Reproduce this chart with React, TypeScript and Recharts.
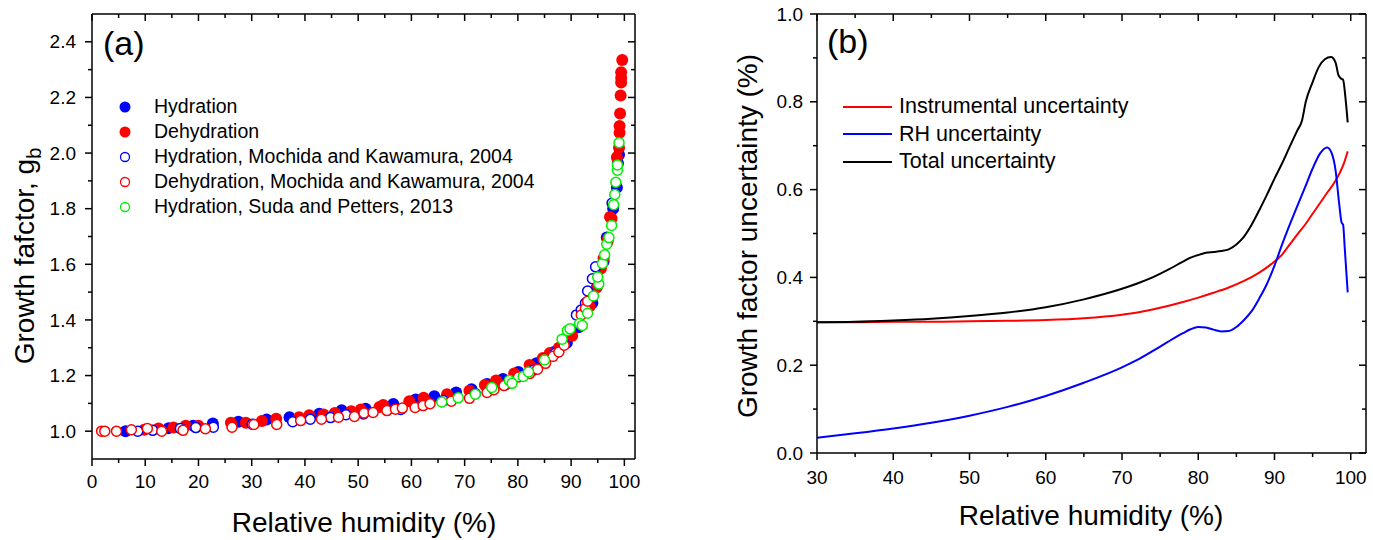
import React from "react";
import { ScatterChart, Scatter, LineChart, Line, XAxis, YAxis, Legend } from "recharts";

const FONT = "Arial, 'Liberation Sans', sans-serif";

// (a) growth factor vs relative humidity, pairs of [RH %, gb]
const hydration: [number, number][] = [
  [6.3, 1.0], [14.4, 1.011], [19, 1.02], [22.7, 1.028], [27.5, 1.034], [32.8, 1.042],
  [37.1, 1.05], [42.7, 1.063], [46.9, 1.075], [51.4, 1.081], [56.6, 1.098], [60.8, 1.114],
  [64.3, 1.126], [68.4, 1.139], [71.3, 1.151], [74.2, 1.17], [77.2, 1.188], [80.1, 1.213],
  [83.5, 1.244], [86.8, 1.285], [89.2, 1.318], [91.4, 1.374], [94, 1.461], [96.1, 1.61],
  [96.7, 1.696], [97.9, 1.8], [98.6, 1.876], [98.8, 1.963], [99, 1.994],
];
const dehydration: [number, number][] = [
  [9.8, 1.005], [12.5, 1.01], [15.3, 1.013], [17.6, 1.02], [20, 1.02], [26.1, 1.03],
  [28.9, 1.03], [31.9, 1.037], [34.6, 1.045], [38.9, 1.05], [40.8, 1.057], [43.5, 1.06],
  [45.6, 1.065], [48.7, 1.072], [50.5, 1.078], [54, 1.087], [54.7, 1.094], [59.6, 1.108],
  [62.3, 1.12], [66.7, 1.133], [70.9, 1.145], [73.8, 1.166], [75.9, 1.182], [79.3, 1.207],
  [82.2, 1.238], [84.7, 1.263], [86, 1.281], [87.7, 1.3], [90.2, 1.343], [93.5, 1.449],
  [94.8, 1.517], [95.6, 1.585], [96.1, 1.622], [96.9, 1.69], [97.3, 1.77], [97.6, 1.765],
  [98.6, 1.985], [99, 2.019], [99.1, 2.073], [99.1, 2.097], [99.2, 2.142], [99.3, 2.207],
  [99.4, 2.254], [99.4, 2.27], [99.4, 2.291], [99.6, 2.335],
];
const hydMochida: [number, number][] = [
  [8.6, 1.0], [11.4, 1.003], [16.6, 1.01], [19.5, 1.013], [22.8, 1.014], [30.1, 1.025],
  [37.7, 1.034], [41, 1.043], [44.8, 1.049], [47.7, 1.059], [51, 1.062], [58, 1.078],
  [66, 1.11], [72, 1.135], [78, 1.17], [83, 1.22], [87, 1.28], [91, 1.418], [91.9, 1.436],
  [92.7, 1.461], [93.1, 1.504], [94, 1.548], [94.6, 1.591], [97.7, 1.82],
];
const dehydMochida: [number, number][] = [
  [1.8, 1.0], [2.4, 1.0], [4.6, 1.0], [7.4, 1.005], [10.4, 1.01], [13.1, 1.0], [17.1, 1.003],
  [21.3, 1.009], [26.3, 1.014], [30.4, 1.024], [34.7, 1.024], [39.2, 1.038], [43.1, 1.043],
  [46.3, 1.05], [49.3, 1.053], [51.1, 1.065], [52.8, 1.067], [55.4, 1.074], [57, 1.079],
  [58.3, 1.083], [60.7, 1.085], [62.2, 1.092], [63.5, 1.099], [67.5, 1.108], [70.9, 1.118],
  [74.2, 1.139], [75.5, 1.149], [77.4, 1.164], [80.1, 1.195], [82.2, 1.207], [83.7, 1.223],
  [85.2, 1.244], [86.6, 1.269], [87.7, 1.285], [88.7, 1.309], [91.9, 1.418], [92.7, 1.442],
  [93.1, 1.467], [96.9, 1.68],
];
const hydSuda: [number, number][] = [
  [65.7, 1.105], [68.8, 1.12], [72, 1.133], [75.1, 1.157], [78.4, 1.182], [78.9, 1.172],
  [81, 1.197], [82, 1.213], [85, 1.256], [88.3, 1.331], [89.3, 1.362], [89.8, 1.368],
  [91.6, 1.387], [92.1, 1.38], [93.1, 1.424], [94.2, 1.486], [95.2, 1.529], [95, 1.554],
  [95.9, 1.603], [96.3, 1.634], [96.7, 1.672], [97.1, 1.696], [97.6, 1.74], [98, 1.814],
  [98.2, 1.851], [98.4, 1.895], [98.7, 1.938], [98.7, 1.957], [99, 2.037],
];

// (b) growth factor uncertainty vs relative humidity
const instrumental: [number, number][] = [
  [30, 0.298], [35, 0.298], [40, 0.299], [45, 0.299], [50, 0.3], [55, 0.301], [60, 0.303],
  [65, 0.307], [70, 0.315], [72, 0.32], [74, 0.327], [76, 0.335], [78, 0.344], [80, 0.354],
  [82, 0.365], [84, 0.377], [86, 0.392], [88, 0.411], [90, 0.436], [91, 0.452], [92, 0.475],
  [93, 0.498], [94, 0.52], [95, 0.545], [96, 0.57], [97, 0.595], [98, 0.62], [99, 0.655],
  [99.6, 0.687],
];
const rhUnc: [number, number][] = [
  [30, 0.035], [35, 0.045], [40, 0.056], [45, 0.069], [50, 0.085], [55, 0.105], [60, 0.13],
  [65, 0.16], [70, 0.195], [72, 0.212], [74, 0.232], [76, 0.253], [78, 0.273], [79, 0.282],
  [80, 0.287], [81, 0.286], [82, 0.281], [83, 0.277], [84, 0.278], [85, 0.287], [86, 0.303],
  [87, 0.323], [88, 0.352], [89, 0.385], [90, 0.427], [91, 0.475], [92, 0.52], [93, 0.563],
  [94, 0.605], [95, 0.648], [96, 0.683], [96.9, 0.696], [97.5, 0.683], [98, 0.645],
  [98.5, 0.565], [98.8, 0.525], [99, 0.52], [99.2, 0.47], [99.6, 0.366],
];
const totalUnc: [number, number][] = [
  [30, 0.298], [35, 0.299], [40, 0.302], [45, 0.306], [50, 0.312], [55, 0.32], [60, 0.332],
  [65, 0.35], [70, 0.374], [72, 0.386], [74, 0.4], [76, 0.417], [78, 0.436], [79, 0.445],
  [80, 0.451], [81, 0.456], [82, 0.458], [83, 0.46], [84, 0.464], [85, 0.475], [86, 0.493],
  [87, 0.52], [88, 0.553], [89, 0.588], [90, 0.625], [91, 0.66], [92, 0.698], [93, 0.735],
  [93.6, 0.757], [94.1, 0.8], [95, 0.845], [95.8, 0.879], [96.6, 0.897], [97.4, 0.902],
  [98, 0.89], [98.4, 0.86], [98.8, 0.852], [99, 0.85], [99.3, 0.81], [99.6, 0.753],
];

const gXTicks = [0, 10, 20, 30, 40, 50, 60, 70, 80, 90, 100];
const gXMinor = [5, 15, 25, 35, 45, 55, 65, 75, 85, 95];
const gYTicks = [1.0, 1.2, 1.4, 1.6, 1.8, 2.0, 2.2, 2.4];
const gYMinor = [1.1, 1.3, 1.5, 1.7, 1.9, 2.1, 2.3];
const uXTicks = [30, 40, 50, 60, 70, 80, 90, 100];
const uXMinor = [35, 45, 55, 65, 75, 85, 95];
const uYTicks = [0, 0.2, 0.4, 0.6, 0.8, 1.0];
const uYMinor = [0.1, 0.3, 0.5, 0.7, 0.9];

const xy = (pts: [number, number][]) => pts.map(([x, y]) => ({ x, y }));
const all = (a: number[], b: number[]) => [...a, ...b].sort((p, q) => p - q);

type Side = "left" | "right" | "top" | "bottom";

// draws tick line (major/minor) and the label itself; axis tickSize/tickMargin are 0
function tickFn(side: Side, majors: number[], labels: boolean, gap: number, fmt: (v: number) => string) {
  return (props: any) => {
    const { x, y, payload } = props;
    const v: number = payload.value;
    const major = majors.some((m) => Math.abs(m - v) < 1e-6);
    const len = major ? 7 : 4;
    const tp = { fontSize: 19, fontFamily: FONT, fill: "#000" };
    let line: React.ReactNode;
    let text: React.ReactNode = null;
    if (side === "left") {
      line = <line x1={x - len} y1={y} x2={x} y2={y} />;
      if (major && labels)
        text = <text x={x - gap} y={y} dy="0.35em" textAnchor="end" {...tp}>{fmt(v)}</text>;
    } else if (side === "right") {
      line = <line x1={x - len} y1={y} x2={x} y2={y} />;
    } else if (side === "bottom") {
      line = <line x1={x} y1={y} x2={x} y2={y + len} />;
      if (major && labels)
        text = <text x={x} y={y + gap} dy="0.71em" textAnchor="middle" {...tp}>{fmt(v)}</text>;
    } else {
      line = <line x1={x} y1={y} x2={x} y2={y + len} />;
    }
    return (
      <g>
        <g stroke="#000" strokeWidth={1.5}>{line}</g>
        {text}
      </g>
    );
  };
}

const axisLine = { stroke: "#000", strokeWidth: 1.5 };
const fix1 = (v: number) => v.toFixed(1);
const int = (v: number) => String(v);

const dot = (fill: string, stroke: string, r: number) => (p: any) =>
  <circle cx={p.cx} cy={p.cy} r={r} fill={fill} stroke={stroke} strokeWidth={1.5} />;

const scatterSeries = [
  { name: "Hydration", pts: hydration, fill: "#0000ff", stroke: "none", r: 6 },
  { name: "Dehydration", pts: dehydration, fill: "#ff0000", stroke: "none", r: 6 },
  { name: "Hydration, Mochida and Kawamura, 2004", pts: hydMochida, fill: "#ffffff", stroke: "#0000ff", r: 5 },
  { name: "Dehydration, Mochida and Kawamura, 2004", pts: dehydMochida, fill: "#ffffff", stroke: "#ff0000", r: 5 },
  { name: "Hydration, Suda and Petters, 2013", pts: hydSuda, fill: "#ffffff", stroke: "#00ee00", r: 5 },
];

const lineSeries = [
  { name: "Instrumental uncertainty", pts: instrumental, color: "#ff0000" },
  { name: "RH uncertainty", pts: rhUnc, color: "#0000ff" },
  { name: "Total uncertainty", pts: totalUnc, color: "#000000" },
];

const ScatterLegend = () => (
  <div style={{ fontFamily: FONT, fontSize: 19.5, color: "#000" }}>
    {scatterSeries.map((s) => (
      <div key={s.name} style={{ display: "flex", alignItems: "center", height: 25, whiteSpace: "nowrap" }}>
        <svg width={36} height={14}>
          <circle cx={7} cy={7} r={s.stroke === "none" ? 5.5 : 4.5} fill={s.fill} stroke={s.stroke} strokeWidth={1.3} />
        </svg>
        <span>{s.name}</span>
      </div>
    ))}
  </div>
);

const LineLegend = () => (
  <div style={{ fontFamily: FONT, fontSize: 21.5, color: "#000" }}>
    {lineSeries.map((s) => (
      <div key={s.name} style={{ display: "flex", alignItems: "center", height: 27.5, whiteSpace: "nowrap" }}>
        <svg width={56} height={10}>
          <line x1={0} y1={5} x2={49} y2={5} stroke={s.color} strokeWidth={2} />
        </svg>
        <span>{s.name}</span>
      </div>
    ))}
  </div>
);

function GrowthPanel() {
  return (
    <ScatterChart width={660} height={540} margin={{ top: 13, right: 24, bottom: 0, left: 0 }}>
      <XAxis xAxisId="b" type="number" dataKey="x" domain={[0, 102]} allowDataOverflow ticks={all(gXTicks, gXMinor)}
        interval={0} height={81} tickSize={0} tickMargin={0} tickLine={false} axisLine={axisLine}
        tick={tickFn("bottom", gXTicks, true, 16, int)}
        label={() => (
          <text x={364} y={532} textAnchor="middle" fontSize={28} fontFamily={FONT} fill="#000">Relative humidity (%)</text>
        )} />
      <XAxis xAxisId="t" orientation="top" type="number" dataKey="x" domain={[0, 102]} allowDataOverflow
        ticks={all(gXTicks, gXMinor)} interval={0} height={1} tickSize={0} tickMargin={0} tickLine={false}
        axisLine={axisLine} tick={tickFn("top", gXTicks, false, 0, int)}
        label={() => (
          <text x={103} y={55} fontSize={34} fontFamily={FONT} fill="#000">(a)</text>
        )} />
      <YAxis yAxisId="l" type="number" dataKey="y" domain={[0.9, 2.5]} allowDataOverflow ticks={all(gYTicks, gYMinor)}
        interval={0} width={92} tickSize={0} tickMargin={0} tickLine={false} axisLine={axisLine}
        tick={tickFn("left", gYTicks, true, 16, fix1)}
        label={() => (
          <text x={34} y={256} transform="rotate(-90, 34, 256)" textAnchor="middle" fontSize={28} fontFamily={FONT} fill="#000">
            Growth fafctor, g<tspan dy={7} fontSize={20}>b</tspan>
          </text>
        )} />
      <YAxis yAxisId="r" orientation="right" type="number" dataKey="y" domain={[0.9, 2.5]} allowDataOverflow
        ticks={all(gYTicks, gYMinor)} interval={0} width={1} tickSize={0} tickMargin={0} tickLine={false}
        axisLine={axisLine} tick={tickFn("right", gYTicks, false, 0, fix1)} />
      <Legend layout="vertical" align="center" verticalAlign="middle" content={ScatterLegend}
        wrapperStyle={{ left: 118, top: 94, right: "auto", bottom: "auto", width: "auto" }} />
      <Scatter data={xy(hydration)} xAxisId="t" yAxisId="r" shape={() => <g />} legendType="none" isAnimationActive={false} />
      {scatterSeries.map((s) => (
        <Scatter key={s.name} name={s.name} data={xy(s.pts)} xAxisId="b" yAxisId="l"
          shape={dot(s.fill, s.stroke, s.r)} isAnimationActive={false} />
      ))}
    </ScatterChart>
  );
}

function UncertaintyPanel() {
  return (
    <LineChart width={683} height={540} margin={{ top: 13, right: 6, bottom: 0, left: 0 }}>
      <XAxis xAxisId="b" type="number" dataKey="x" domain={[30, 102]} allowDataOverflow ticks={all(uXTicks, uXMinor)}
        interval={0} height={87} tickSize={0} tickMargin={0} tickLine={false} axisLine={axisLine}
        tick={tickFn("bottom", uXTicks, true, 18, int)}
        label={() => (
          <text x={401} y={525} textAnchor="middle" fontSize={28} fontFamily={FONT} fill="#000">Relative humidity (%)</text>
        )} />
      <XAxis xAxisId="t" orientation="top" type="number" dataKey="x" domain={[30, 102]} allowDataOverflow
        ticks={all(uXTicks, uXMinor)} interval={0} height={1} tickSize={0} tickMargin={0} tickLine={false}
        axisLine={axisLine} tick={tickFn("top", uXTicks, false, 0, int)}
        label={() => (
          <text x={137} y={53} fontSize={34} fontFamily={FONT} fill="#000">(b)</text>
        )} />
      <YAxis yAxisId="l" type="number" dataKey="y" domain={[0, 1]} allowDataOverflow ticks={all(uYTicks, uYMinor)}
        interval={0} width={127} tickSize={0} tickMargin={0} tickLine={false} axisLine={axisLine}
        tick={tickFn("left", uYTicks, true, 14, fix1)}
        label={() => (
          <text x={67} y={236} transform="rotate(-90, 67, 236)" textAnchor="middle" fontSize={28} fontFamily={FONT} fill="#000">
            Growth factor uncertainty (%)
          </text>
        )} />
      <YAxis yAxisId="r" orientation="right" type="number" dataKey="y" domain={[0, 1]} allowDataOverflow
        ticks={all(uYTicks, uYMinor)} interval={0} width={1} tickSize={0} tickMargin={0} tickLine={false}
        axisLine={axisLine} tick={tickFn("right", uYTicks, false, 0, fix1)} />
      <Legend layout="vertical" align="center" verticalAlign="middle" content={LineLegend}
        wrapperStyle={{ left: 153, top: 93, right: "auto", bottom: "auto", width: "auto" }} />
      <Line data={xy(totalUnc)} dataKey="y" xAxisId="t" yAxisId="r" stroke="none" dot={false} activeDot={false}
        legendType="none" isAnimationActive={false} />
      {lineSeries.map((s) => (
        <Line key={s.name} name={s.name} data={xy(s.pts)} dataKey="y" xAxisId="b" yAxisId="l" type="monotone"
          stroke={s.color} strokeWidth={2} dot={false} activeDot={false} isAnimationActive={false} />
      ))}
    </LineChart>
  );
}

export default function App() {
  return (
    <div style={{ position: "absolute", left: 0, top: 0, width: 1373, height: 540, background: "#fff" }}>
      <div style={{ position: "absolute", left: 0, top: 0 }}>
        <GrowthPanel />
      </div>
      <div style={{ position: "absolute", left: 690, top: 0 }}>
        <UncertaintyPanel />
      </div>
    </div>
  );
}
